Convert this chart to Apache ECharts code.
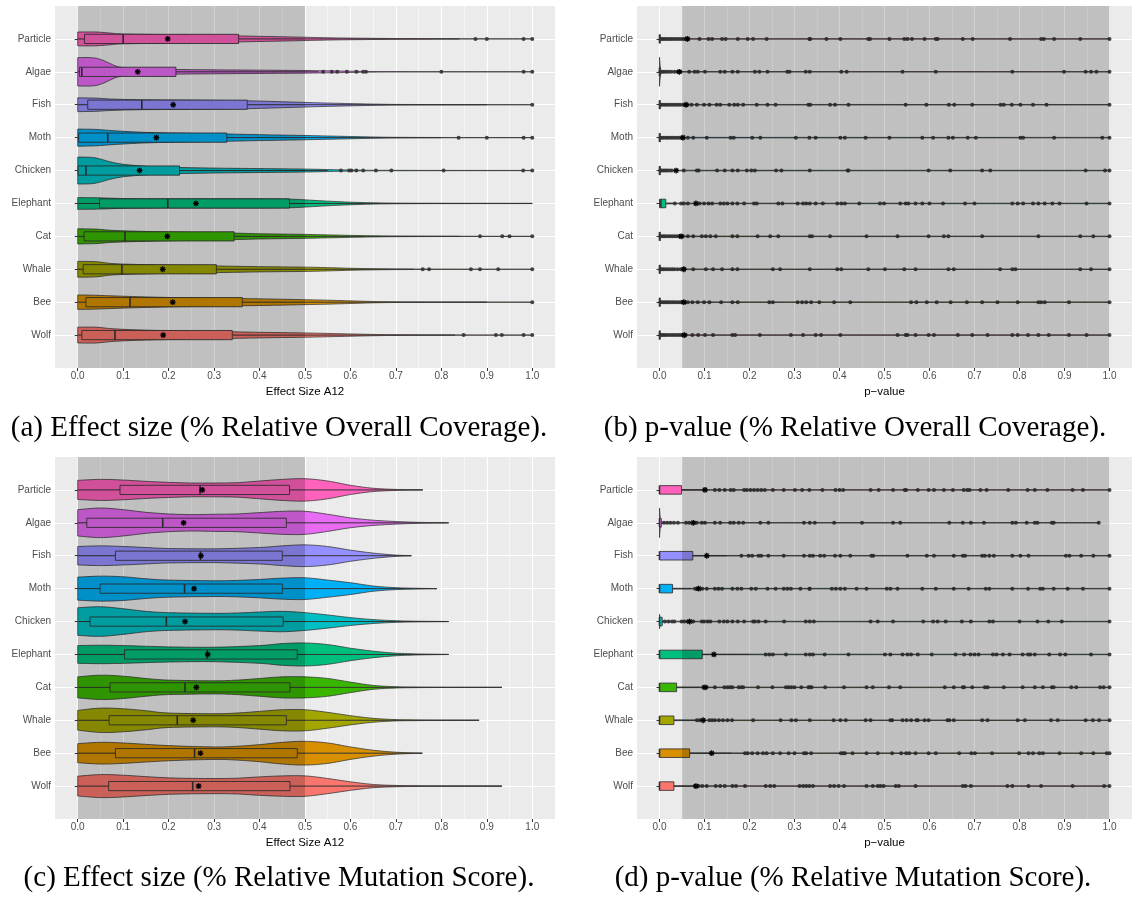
<!DOCTYPE html>
<html><head><meta charset="utf-8">
<script src="https://cdn.jsdelivr.net/npm/echarts@6/dist/echarts.min.js"></script>
<style>html,body{margin:0;padding:0;background:#fff;}#c{width:1136px;height:901px;}</style>
</head><body><div id="c"></div><script>
// ---------------- data ----------------
const CATEGORIES = ['Particle','Algae','Fish','Moth','Chicken','Elephant','Cat','Whale','Bee','Wolf'];
const COLORS = ['#FF62BC','#E76BF3','#9590FF','#00B0F6','#00BFC4','#00BF7D','#39B600','#A3A500','#D89000','#F8766D'];
const X_MIN = 0, X_MAX = 1, X_STEP = 0.1;
const AXIS_TITLES = ['Effect Size A12', 'p\u2212value', 'Effect Size A12', 'p\u2212value'];
const CAPTIONS = ['(a) Effect size (% Relative Overall Coverage).', '(b) p-value (% Relative Overall Coverage).',
                  '(c) Effect size (% Relative Mutation Score).', '(d) p-value (% Relative Mutation Score).'];
const A_SHADE = [0, 0.5], B_SHADE = [0.05, 1.0], C_SHADE = [0, 0.5], D_SHADE = [0.05, 1.0];

// violin profiles: [value, half width in category units]
const A_VIOLIN = [
 [[0,0.21],[0.04,0.21],[0.07,0.18],[0.1,0.15],[0.2,0.13],[0.3,0.11],[0.36,0.09],[0.45,0.065],[0.5,0.05],[0.55,0.035],[0.6,0.025],[0.7,0.012],[0.8,0.006],[0.9,0.004],[1,0.003]],
 [[0,0.43],[0.03,0.43],[0.05,0.38],[0.07,0.26],[0.09,0.15],[0.12,0.1],[0.16,0.08],[0.22,0.07],[0.3,0.06],[0.4,0.05],[0.5,0.04],[0.55,0.03],[0.6,0.02],[0.65,0.01],[0.75,0.005],[1,0.003]],
 [[0,0.21],[0.04,0.2],[0.08,0.17],[0.15,0.15],[0.25,0.14],[0.37,0.12],[0.45,0.09],[0.5,0.07],[0.55,0.05],[0.6,0.035],[0.65,0.02],[0.7,0.01],[0.8,0.005],[1,0.003]],
 [[0,0.26],[0.04,0.25],[0.08,0.21],[0.15,0.16],[0.25,0.13],[0.33,0.11],[0.4,0.09],[0.5,0.065],[0.55,0.05],[0.6,0.035],[0.65,0.02],[0.7,0.01],[0.8,0.005],[1,0.003]],
 [[0,0.41],[0.03,0.4],[0.05,0.35],[0.07,0.27],[0.1,0.19],[0.15,0.13],[0.2,0.1],[0.3,0.075],[0.4,0.06],[0.5,0.045],[0.55,0.03],[0.6,0.015],[0.65,0.008],[0.75,0.005],[1,0.003]],
 [[0,0.18],[0.05,0.17],[0.1,0.15],[0.2,0.14],[0.3,0.14],[0.4,0.14],[0.47,0.13],[0.5,0.11],[0.55,0.07],[0.6,0.04],[0.65,0.02],[0.7,0.01],[0.8,0.005],[1,0.003]],
 [[0,0.23],[0.04,0.22],[0.08,0.18],[0.15,0.15],[0.25,0.12],[0.34,0.1],[0.4,0.08],[0.5,0.06],[0.55,0.045],[0.6,0.03],[0.65,0.018],[0.7,0.01],[0.8,0.005],[1,0.003]],
 [[0,0.24],[0.04,0.23],[0.08,0.17],[0.15,0.14],[0.25,0.11],[0.31,0.1],[0.4,0.08],[0.5,0.065],[0.55,0.05],[0.6,0.03],[0.65,0.018],[0.7,0.01],[0.8,0.005],[1,0.003]],
 [[0,0.22],[0.04,0.21],[0.08,0.19],[0.15,0.16],[0.25,0.13],[0.36,0.11],[0.45,0.09],[0.5,0.075],[0.55,0.06],[0.6,0.04],[0.65,0.02],[0.7,0.01],[0.8,0.005],[1,0.003]],
 [[0,0.24],[0.04,0.24],[0.08,0.19],[0.15,0.15],[0.25,0.12],[0.34,0.1],[0.4,0.085],[0.5,0.065],[0.55,0.05],[0.6,0.035],[0.65,0.02],[0.7,0.01],[0.8,0.005],[1,0.003]]
];
// box: [whisker low, q1, median, q3, whisker high]
const A_BOX = [[0,0.015,0.10,0.354,0.84],[0,0.004,0.009,0.216,0.53],[0,0.022,0.141,0.373,0.9],[0,0.002,0.066,0.328,0.8],[0,0.001,0.018,0.224,0.55],
               [0,0.048,0.198,0.466,1.0],[0,0.014,0.104,0.344,0.84],[0,0.012,0.097,0.305,0.74],[0,0.018,0.115,0.362,0.9],[0,0.009,0.082,0.34,0.83]];
const A_MEAN = [0.198,0.132,0.21,0.173,0.136,0.26,0.197,0.187,0.209,0.188];
const A_POINTS = [
 [0.875,0.90,0.981,1.0],
 [0.54,0.559,0.571,0.592,0.613,0.628,0.634,0.80,0.981,1.0],
 [1.0],
 [0.838,0.90,0.981,1.0],
 [0.579,0.597,0.602,0.613,0.628,0.656,0.69,0.805,0.98,1.0],
 [],
 [0.885,0.934,0.95,1.0],
 [0.759,0.773,0.865,0.885,0.925,1.0],
 [1.0],
 [0.849,0.92,0.933,0.981,1.0]
];

const B_VIOLIN = [
 [[0,0.07],[0.003,0.03],[0.015,0.014],[0.05,0.01],[0.2,0.008],[1,0.007]],
 [[0,0.44],[0.002,0.15],[0.006,0.03],[0.03,0.012],[0.2,0.008],[1,0.007]],
 [[0,0.06],[0.003,0.03],[0.015,0.014],[0.05,0.01],[0.2,0.008],[1,0.007]],
 [[0,0.05],[0.003,0.025],[0.015,0.014],[0.05,0.01],[0.2,0.008],[1,0.007]],
 [[0,0.06],[0.003,0.03],[0.015,0.014],[0.05,0.01],[0.2,0.008],[1,0.007]],
 [[0,0.03],[0.01,0.02],[0.05,0.01],[0.2,0.008],[1,0.007]],
 [[0,0.06],[0.003,0.03],[0.015,0.014],[0.05,0.01],[0.2,0.008],[1,0.007]],
 [[0,0.05],[0.003,0.025],[0.015,0.014],[0.05,0.01],[0.2,0.008],[1,0.007]],
 [[0,0.06],[0.003,0.03],[0.015,0.014],[0.05,0.01],[0.2,0.008],[1,0.007]],
 [[0,0.06],[0.003,0.03],[0.015,0.014],[0.05,0.01],[0.2,0.008],[1,0.007]]
];
const B_BOX = [[0,0,0,0.001,0.002],[0,0,0,0.001,0.002],[0,0,0,0.001,0.002],[0,0,0,0.001,0.002],[0,0,0,0.001,0.002],
               [0,0,0.003,0.014,0.034],[0,0,0,0.001,0.002],[0,0,0,0.001,0.002],[0,0,0,0.001,0.002],[0,0,0,0.001,0.002]];
const B_MEAN = [0.062,0.044,0.059,0.052,0.037,0.081,0.048,0.054,0.054,0.055];
const B_POINTS = [
 [0.003,0.007,0.011,0.015,0.019,0.024,0.028,0.033,0.038,0.043,0.048,0.053,0.058,0.063,0.089,0.109,0.117,0.139,0.147,0.174,0.196,0.208,0.238,0.333,0.335,0.371,0.402,0.464,0.468,0.511,0.544,0.551,0.561,0.589,0.614,0.618,0.674,0.696,0.779,0.848,0.854,0.877,0.935,1.0],
 [0.002,0.006,0.01,0.015,0.02,0.026,0.033,0.04,0.046,0.066,0.078,0.085,0.101,0.135,0.145,0.162,0.174,0.212,0.222,0.24,0.284,0.289,0.325,0.334,0.404,0.416,0.54,0.614,0.784,0.899,0.947,0.959,0.971,1.0],
 [0.003,0.007,0.012,0.016,0.021,0.026,0.031,0.036,0.041,0.046,0.052,0.057,0.062,0.071,0.083,0.099,0.111,0.127,0.135,0.155,0.166,0.174,0.186,0.216,0.24,0.258,0.331,0.335,0.379,0.39,0.42,0.547,0.593,0.643,0.655,0.695,0.758,0.765,0.783,0.802,0.83,0.86,1.0],
 [0.002,0.006,0.01,0.015,0.019,0.024,0.029,0.034,0.039,0.044,0.05,0.063,0.075,0.105,0.158,0.165,0.206,0.224,0.303,0.333,0.347,0.402,0.412,0.458,0.511,0.584,0.608,0.642,0.652,0.685,0.703,0.802,0.808,0.877,0.984,1.0],
 [0.002,0.005,0.009,0.013,0.017,0.022,0.027,0.054,0.083,0.087,0.128,0.145,0.162,0.174,0.194,0.204,0.212,0.259,0.271,0.334,0.418,0.42,0.598,0.646,0.717,0.735,0.947,0.99,1.0],
 [0.034,0.048,0.054,0.063,0.089,0.099,0.109,0.117,0.135,0.143,0.151,0.162,0.173,0.188,0.21,0.216,0.264,0.273,0.307,0.319,0.326,0.334,0.347,0.363,0.395,0.404,0.412,0.444,0.49,0.499,0.535,0.547,0.553,0.569,0.584,0.6,0.63,0.679,0.7,0.784,0.796,0.808,0.83,0.842,0.856,0.873,0.889,0.949,1.0],
 [0.002,0.006,0.01,0.014,0.019,0.024,0.029,0.034,0.039,0.044,0.048,0.052,0.063,0.075,0.094,0.103,0.113,0.125,0.162,0.173,0.218,0.246,0.264,0.334,0.339,0.379,0.46,0.529,0.598,0.632,0.642,0.717,0.842,0.935,0.964,1.0],
 [0.002,0.005,0.009,0.013,0.018,0.023,0.028,0.033,0.04,0.047,0.053,0.055,0.075,0.103,0.119,0.139,0.162,0.173,0.252,0.268,0.334,0.395,0.404,0.464,0.501,0.544,0.569,0.642,0.654,0.757,0.784,0.791,0.935,0.959,1.0],
 [0.002,0.006,0.01,0.014,0.018,0.022,0.027,0.031,0.036,0.041,0.046,0.05,0.057,0.063,0.073,0.085,0.099,0.111,0.137,0.162,0.174,0.244,0.252,0.307,0.317,0.326,0.337,0.355,0.388,0.424,0.559,0.571,0.594,0.616,0.647,0.683,0.717,0.751,0.796,0.842,0.848,0.856,0.91,1.0],
 [0.002,0.006,0.01,0.014,0.019,0.024,0.029,0.034,0.039,0.044,0.048,0.054,0.058,0.073,0.086,0.101,0.119,0.162,0.168,0.223,0.292,0.319,0.347,0.359,0.402,0.529,0.547,0.551,0.569,0.598,0.61,0.663,0.695,0.729,0.784,0.796,0.819,0.842,0.865,0.91,0.949,1.0]
];

const C_VIOLIN = [
 [[0,0.29],[0.05,0.32],[0.1,0.30],[0.15,0.26],[0.2,0.23],[0.25,0.21],[0.3,0.21],[0.35,0.22],[0.4,0.27],[0.45,0.32],[0.5,0.34],[0.55,0.27],[0.6,0.14],[0.65,0.05],[0.7,0.015],[0.74,0.004],[0.759,0.002]],
 [[0,0.40],[0.05,0.45],[0.1,0.40],[0.15,0.32],[0.2,0.27],[0.25,0.25],[0.3,0.26],[0.35,0.27],[0.4,0.31],[0.45,0.35],[0.5,0.35],[0.55,0.26],[0.6,0.15],[0.65,0.08],[0.7,0.04],[0.75,0.015],[0.8,0.004],[0.816,0.002]],
 [[0,0.28],[0.05,0.30],[0.1,0.28],[0.15,0.25],[0.2,0.22],[0.3,0.21],[0.4,0.25],[0.45,0.30],[0.5,0.33],[0.55,0.28],[0.6,0.17],[0.65,0.08],[0.7,0.02],[0.734,0.002]],
 [[0,0.35],[0.05,0.38],[0.1,0.36],[0.15,0.30],[0.2,0.26],[0.3,0.24],[0.35,0.25],[0.4,0.28],[0.45,0.32],[0.5,0.33],[0.55,0.26],[0.6,0.18],[0.65,0.08],[0.7,0.03],[0.75,0.01],[0.79,0.002]],
 [[0,0.42],[0.05,0.45],[0.1,0.39],[0.15,0.31],[0.2,0.27],[0.3,0.25],[0.35,0.26],[0.4,0.29],[0.45,0.31],[0.5,0.27],[0.55,0.20],[0.6,0.12],[0.65,0.06],[0.7,0.025],[0.75,0.01],[0.8,0.004],[0.816,0.002]],
 [[0,0.27],[0.05,0.28],[0.1,0.27],[0.2,0.23],[0.3,0.22],[0.4,0.27],[0.45,0.33],[0.5,0.35],[0.55,0.30],[0.6,0.19],[0.65,0.10],[0.7,0.04],[0.75,0.015],[0.8,0.004],[0.816,0.002]],
 [[0,0.32],[0.05,0.37],[0.1,0.34],[0.15,0.27],[0.2,0.22],[0.3,0.20],[0.35,0.22],[0.4,0.27],[0.45,0.32],[0.5,0.32],[0.55,0.27],[0.6,0.16],[0.65,0.06],[0.7,0.02],[0.75,0.008],[0.8,0.004],[0.9,0.002],[0.933,0.001]],
 [[0,0.30],[0.05,0.37],[0.1,0.35],[0.15,0.29],[0.2,0.22],[0.3,0.20],[0.35,0.22],[0.4,0.27],[0.45,0.32],[0.5,0.32],[0.55,0.24],[0.6,0.14],[0.65,0.06],[0.7,0.02],[0.75,0.01],[0.8,0.004],[0.883,0.001]],
 [[0,0.29],[0.05,0.33],[0.1,0.31],[0.2,0.23],[0.3,0.19],[0.35,0.21],[0.4,0.26],[0.45,0.33],[0.5,0.36],[0.55,0.31],[0.6,0.19],[0.65,0.09],[0.7,0.03],[0.75,0.005],[0.758,0.002]],
 [[0,0.30],[0.05,0.35],[0.1,0.33],[0.2,0.25],[0.3,0.23],[0.35,0.24],[0.4,0.28],[0.45,0.31],[0.5,0.31],[0.55,0.23],[0.6,0.13],[0.65,0.05],[0.7,0.02],[0.75,0.008],[0.8,0.004],[0.9,0.002],[0.933,0.001]]
];
const C_BOX = [[0,0.093,0.269,0.466,0.759],[0,0.02,0.187,0.459,0.816],[0,0.083,0.27,0.45,0.734],[0,0.049,0.235,0.45,0.79],[0,0.027,0.195,0.452,0.816],
               [0,0.103,0.285,0.483,0.816],[0,0.071,0.236,0.467,0.933],[0,0.069,0.219,0.459,0.883],[0,0.083,0.257,0.483,0.758],[0,0.068,0.253,0.467,0.933]];
const C_MEAN = [0.274,0.233,0.271,0.256,0.236,0.286,0.261,0.254,0.27,0.266];
const C_POINTS = [[],[],[],[],[],[],[],[],[],[]];

const D_VIOLIN = [
 [[0,0.03],[0.01,0.02],[0.05,0.01],[0.2,0.008],[1,0.007]],
 [[0,0.45],[0.002,0.15],[0.006,0.03],[0.03,0.012],[0.2,0.008],[0.976,0.006]],
 [[0,0.03],[0.01,0.02],[0.05,0.01],[0.2,0.008],[1,0.007]],
 [[0,0.03],[0.01,0.02],[0.05,0.01],[0.2,0.008],[1,0.007]],
 [[0,0.22],[0.002,0.1],[0.006,0.03],[0.03,0.012],[0.2,0.008],[1,0.007]],
 [[0,0.03],[0.01,0.02],[0.05,0.01],[0.2,0.008],[1,0.007]],
 [[0,0.03],[0.01,0.02],[0.05,0.01],[0.2,0.008],[1,0.007]],
 [[0,0.03],[0.01,0.02],[0.05,0.01],[0.2,0.008],[1,0.007]],
 [[0,0.03],[0.01,0.02],[0.05,0.01],[0.2,0.008],[1,0.007]],
 [[0,0.03],[0.01,0.02],[0.05,0.01],[0.2,0.008],[1,0.007]]
];
const D_BOX = [[0,0,0,0.049,0.1],[0,0,0,0.004,0.01],[0,0,0,0.074,0.15],[0,0,0,0.029,0.07],[0,0,0,0.006,0.012],
               [0,0,0,0.095,0.2],[0,0,0,0.038,0.09],[0,0,0,0.032,0.08],[0,0,0,0.067,0.16],[0,0,0,0.032,0.078]];
const D_MEAN = [0.101,0.075,0.105,0.087,0.067,0.121,0.101,0.097,0.116,0.081];
const D_POINTS = [
 [0.123,0.133,0.145,0.158,0.165,0.188,0.194,0.202,0.21,0.218,0.226,0.234,0.252,0.276,0.301,0.317,0.333,0.362,0.391,0.4,0.408,0.469,0.487,0.519,0.545,0.548,0.574,0.598,0.61,0.632,0.652,0.676,0.684,0.689,0.713,0.727,0.775,0.818,0.834,0.862,0.918,0.941,1.0],
 [0.01,0.017,0.024,0.032,0.041,0.059,0.066,0.083,0.094,0.101,0.123,0.135,0.157,0.165,0.176,0.186,0.224,0.242,0.321,0.334,0.345,0.388,0.45,0.519,0.535,0.644,0.674,0.692,0.721,0.784,0.792,0.816,0.834,0.84,0.872,0.876,0.976],
 [0.182,0.198,0.206,0.22,0.226,0.242,0.276,0.321,0.334,0.341,0.357,0.366,0.39,0.402,0.424,0.471,0.475,0.551,0.594,0.61,0.654,0.674,0.679,0.717,0.723,0.733,0.743,0.784,0.802,0.82,0.903,0.911,0.937,0.964,1.0],
 [0.079,0.083,0.095,0.105,0.123,0.131,0.139,0.162,0.173,0.182,0.204,0.214,0.24,0.258,0.276,0.284,0.292,0.313,0.333,0.334,0.383,0.392,0.402,0.412,0.438,0.46,0.505,0.513,0.529,0.584,0.614,0.654,0.687,0.725,0.733,0.784,0.819,0.846,0.852,0.876,0.907,0.941,1.0],
 [0.012,0.02,0.028,0.033,0.049,0.055,0.062,0.075,0.094,0.099,0.107,0.113,0.133,0.143,0.151,0.162,0.174,0.188,0.208,0.212,0.22,0.236,0.277,0.325,0.334,0.343,0.469,0.485,0.519,0.586,0.608,0.618,0.636,0.672,0.692,0.733,0.741,0.8,0.84,0.864,0.894,1.0],
 [0.236,0.244,0.252,0.281,0.325,0.334,0.341,0.367,0.42,0.501,0.513,0.54,0.551,0.559,0.574,0.605,0.658,0.677,0.691,0.7,0.709,0.741,0.749,0.763,0.778,0.807,0.819,0.824,0.834,0.866,0.89,0.902,0.959,1.0],
 [0.097,0.105,0.123,0.144,0.151,0.157,0.162,0.176,0.182,0.186,0.219,0.251,0.281,0.287,0.293,0.3,0.315,0.331,0.334,0.338,0.368,0.41,0.46,0.474,0.51,0.535,0.634,0.654,0.674,0.677,0.695,0.723,0.729,0.765,0.807,0.834,0.852,0.872,0.876,0.915,0.926,0.979,0.987,1.0],
 [0.083,0.089,0.111,0.117,0.123,0.132,0.141,0.151,0.161,0.208,0.269,0.293,0.303,0.334,0.387,0.402,0.414,0.458,0.469,0.513,0.517,0.54,0.549,0.559,0.571,0.574,0.589,0.598,0.64,0.644,0.654,0.717,0.729,0.796,0.812,0.87,0.885,0.947,0.963,0.977,1.0],
 [0.19,0.196,0.206,0.218,0.23,0.238,0.252,0.268,0.287,0.3,0.321,0.326,0.337,0.403,0.408,0.412,0.429,0.46,0.485,0.517,0.537,0.548,0.555,0.569,0.598,0.614,0.666,0.693,0.701,0.739,0.799,0.82,0.83,0.844,0.852,0.889,0.937,0.964,0.994,1.0],
 [0.079,0.087,0.095,0.105,0.125,0.135,0.145,0.162,0.17,0.19,0.236,0.246,0.255,0.311,0.319,0.326,0.333,0.341,0.379,0.388,0.398,0.41,0.46,0.474,0.485,0.491,0.498,0.525,0.532,0.569,0.674,0.68,0.692,0.773,0.784,0.82,0.848,0.918,0.988,1.0]
];

// ---------------- layout ----------------
const N = CATEGORIES.length, Y_MAX = N + 1;
const PANELS = [
  {left:55,  top:6,   width:500, height:362, violin:A_VIOLIN, box:A_BOX, mean:A_MEAN, points:A_POINTS, shade:A_SHADE, bw:0.14},
  {left:637, top:6,   width:495, height:362, violin:B_VIOLIN, box:B_BOX, mean:B_MEAN, points:B_POINTS, shade:B_SHADE, bw:0.13},
  {left:55,  top:457, width:500, height:362, violin:C_VIOLIN, box:C_BOX, mean:C_MEAN, points:C_POINTS, shade:C_SHADE, bw:0.14},
  {left:637, top:457, width:495, height:362, violin:D_VIOLIN, box:D_BOX, mean:D_MEAN, points:D_POINTS, shade:D_SHADE, bw:0.13}
];
const CAPTION_POS = [[279,428],[855,428],[279,878],[853,878]];
const yPos = i => N - i;
const FONT = '"Liberation Sans", Arial, sans-serif';
const SERIF = '"Liberation Serif", "Times New Roman", serif';

// smooth drawing of a read profile (Catmull-Rom sampling, drawing resolution only)
function smoothProfile(prof) {
  const out = [], n = prof.length, S = 8;
  const P = j => prof[Math.max(0, Math.min(n - 1, j))];
  for (let j = 0; j < n - 1; j++) {
    const p0 = P(j - 1), p1 = P(j), p2 = P(j + 1), p3 = P(j + 2);
    for (let s = 0; s < S; s++) {
      const t = s / S, t2 = t * t, t3 = t2 * t;
      const f = (a, b, c, d) => 0.5 * ((2 * b) + (-a + c) * t + (2 * a - 5 * b + 4 * c - d) * t2 + (-a + 3 * b - 3 * c + d) * t3);
      let x = f(p0[0], p1[0], p2[0], p3[0]);
      x = Math.max(p1[0], Math.min(p2[0], x));
      const w = Math.max(0.0005, f(p0[1], p1[1], p2[1], p3[1]));
      out.push([x, w]);
    }
  }
  out.push(prof[n - 1]);
  return out;
}

const grid = [], xAxis = [], yAxis = [], series = [];
const catAxisData = [''].concat(CATEGORIES.slice().reverse(), ['']);
PANELS.forEach((P, k) => {
  const pad = P.width * 0.05 / 1.1;
  grid.push({left:P.left, top:P.top, width:P.width, height:P.height, show:true, backgroundColor:'#EBEBEB', borderWidth:0, containLabel:false});
  grid.push({left:P.left + pad, top:P.top, width:P.width / 1.1, height:P.height, show:false, containLabel:false});
  const og = 2*k, ig = 2*k+1;
  xAxis.push({gridIndex:og, type:'value', min:-0.05, max:1.05, show:false});
  xAxis.push({gridIndex:ig, type:'value', min:X_MIN, max:X_MAX, interval:X_STEP,
    axisLine:{show:false}, axisTick:{show:true, length:3, lineStyle:{color:'#333', width:1}},
    axisLabel:{margin:3, fontSize:10, color:'#4D4D4D', fontFamily:FONT, formatter:v => v.toFixed(1)},
    splitLine:{show:true, lineStyle:{color:'#FFFFFF', width:1.1}},
    minorTick:{show:false, splitNumber:2},
    minorSplitLine:{show:true, lineStyle:{color:'#FFFFFF', width:0.55}},
    name:AXIS_TITLES[k], nameLocation:'middle', nameGap:18,
    nameTextStyle:{fontSize:11.5, color:'#000', fontFamily:FONT}});
  yAxis.push({gridIndex:og, type:'category', data:catAxisData, boundaryGap:false,
    axisLine:{show:false},
    axisTick:{show:true, length:3, interval:(i, v) => v !== '', lineStyle:{color:'#333', width:1}},
    axisLabel:{interval:0, margin:4, fontSize:10, color:'#4D4D4D', fontFamily:FONT},
    splitLine:{show:true, interval:(i, v) => v !== '', lineStyle:{color:'#FFFFFF', width:1.1}}});
  yAxis.push({gridIndex:ig, type:'value', min:0, max:Y_MAX, show:false});

  const axes = {xAxisIndex:ig, yAxisIndex:ig, silent:true, animation:false};
  // violins
  series.push(Object.assign({type:'custom', z:2, data:P.violin.map((v, i) => [i]),
    renderItem:(params, api) => {
      const i = api.value(0), y = yPos(i), prof = smoothProfile(P.violin[i]);
      const top = prof.map(([x, w]) => api.coord([x, y + w]));
      const bot = prof.slice().reverse().map(([x, w]) => api.coord([x, y - w]));
      return {type:'polygon', shape:{points:top.concat(bot)},
        style:{fill:COLORS[i], stroke:'rgba(51,51,51,0.85)', lineWidth:0.9, lineJoin:'round'}};
    }}, axes));
  // boxes
  series.push(Object.assign({type:'custom', z:3, data:P.box.map((b, i) => [i]),
    renderItem:(params, api) => {
      const i = api.value(0), y = yPos(i), [wl, q1, md, q3, wh] = P.box[i];
      const c = (x, d) => api.coord([x, y + d]);
      const a = c(q1, P.bw), b = c(q3, -P.bw), m1 = c(md, P.bw), m2 = c(md, -P.bw);
      const l1 = c(wl, 0), l2 = c(q1, 0), r1 = c(q3, 0), r2 = c(wh, 0);
      const st = {stroke:'#333', lineWidth:1};
      return {type:'group', children:[
        {type:'line', shape:{x1:l1[0], y1:l1[1], x2:l2[0], y2:l2[1]}, style:st},
        {type:'line', shape:{x1:r1[0], y1:r1[1], x2:r2[0], y2:r2[1]}, style:st},
        {type:'rect', shape:{x:a[0], y:a[1], width:Math.max(b[0]-a[0], 0.8), height:b[1]-a[1]},
          style:{fill:COLORS[i], stroke:'rgba(51,51,51,0.85)', lineWidth:1}},
        {type:'line', shape:{x1:m1[0], y1:m1[1], x2:m2[0], y2:m2[1]}, style:{stroke:'#333', lineWidth:1.6}}
      ]};
    }}, axes));
  // outlier points
  const pts = [];
  P.points.forEach((list, i) => list.forEach(x => pts.push([x, yPos(i)])));
  series.push(Object.assign({type:'scatter', z:4, symbol:'circle', symbolSize:4, data:pts,
    itemStyle:{color:'#333333', opacity:0.9}}, axes));
  // means (asterisk)
  series.push(Object.assign({type:'custom', z:5, data:P.mean.map((m, i) => [m, yPos(i)]),
    renderItem:(params, api) => {
      const p = api.coord([api.value(0), api.value(1)]), r = 2.9, d = r * 0.72;
      const st = {stroke:'#000', lineWidth:1.3};
      const seg = (dx, dy) => ({type:'line', shape:{x1:p[0]-dx, y1:p[1]-dy, x2:p[0]+dx, y2:p[1]+dy}, style:st});
      return {type:'group', children:[seg(r,0), seg(0,r), seg(d,d), seg(d,-d)]};
    }}, axes));
  // shaded region
  series.push(Object.assign({type:'custom', z:6, data:[P.shade],
    renderItem:(params, api) => {
      const a = api.coord([api.value(0), Y_MAX]), b = api.coord([api.value(1), 0]);
      return {type:'rect', shape:{x:a[0], y:a[1], width:b[0]-a[0], height:b[1]-a[1]},
        style:{fill:'rgba(0,0,0,0.18)'}};
    }}, axes));
});

const graphic = CAPTIONS.map((t, k) => ({type:'text', x:CAPTION_POS[k][0], y:CAPTION_POS[k][1],
  style:{text:t, fill:'#000', font:'29px ' + SERIF, textAlign:'center', textVerticalAlign:'middle'}}));

const chart = echarts.init(document.getElementById('c'), null, {renderer:'canvas'});
chart.setOption({animation:false, grid, xAxis, yAxis, series, graphic});
</script></body></html>
